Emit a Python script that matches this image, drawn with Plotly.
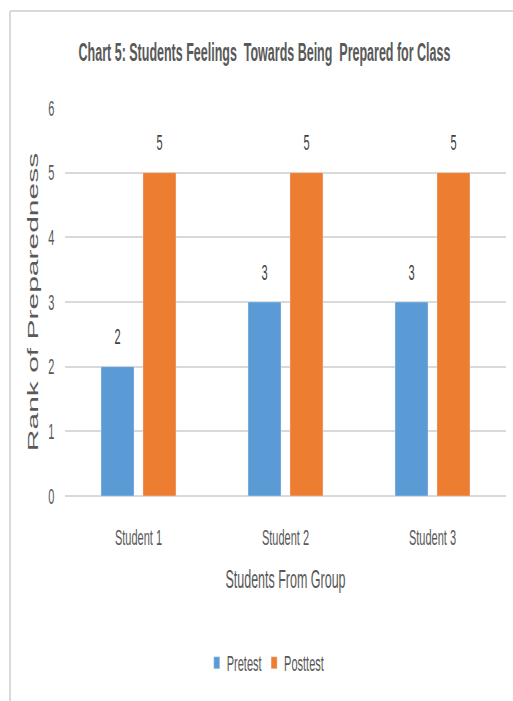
import plotly.graph_objects as go

categories = ["Student 1", "Student 2", "Student 3"]
pretest = [2, 3, 3]
posttest = [5, 5, 5]
series_names = ["Pretest", "Posttest"]
series_colors = ["#5B9BD5", "#ED7D31"]
y_ticks = [0, 1, 2, 3, 4, 5, 6]

# The reference picture is squeezed horizontally: the figure is laid out at
# twice the width and then squeezed back to 513 px with a CSS scaleX.
SQUEEZE = 0.5
W, H = 513, 701
FW = int(round(W / SQUEEZE))
L, R, T, B = 130, 14, 108, 205
PW = FW - L - R
PH = H - T - B

FONT = "Liberation Sans, Arial, sans-serif"
GREY = "#595959"
BARGAP, GROUPGAP = 0.429, 0.214

fig = go.Figure()
for name, vals, col in zip(series_names, [pretest, posttest], series_colors):
    fig.add_trace(go.Bar(name=name, x=categories, y=vals, marker=dict(color=col)))

# value labels above bars (offset computed from the bar layout)
cat_w = PW / len(categories)
slot = cat_w * (1 - BARGAP) / 2
annotations = []
for k, vals in enumerate([pretest, posttest]):
    shift = (k - 0.5) * slot
    for c, v in zip(categories, vals):
        annotations.append(dict(
            x=c, y=v, xref="x", yref="y", text=str(v), showarrow=False,
            xshift=shift, yshift=30, yanchor="middle",
            font=dict(family=FONT, size=22, color="#404040"),
        ))

fig.update_layout(
    width=FW, height=H,
    margin=dict(l=L, r=R, t=T, b=B),
    paper_bgcolor="white", plot_bgcolor="white",
    barmode="group", bargap=BARGAP, bargroupgap=GROUPGAP,
    showlegend=True,
    title=dict(
        text="<b>Chart 5: Students Feelings  Towards Being  Prepared for Class</b>",
        x=0.5156, xref="container", xanchor="center",
        y=1 - 52 / H, yref="container", yanchor="middle",
        font=dict(family=FONT, size=25, color=GREY),
    ),
    xaxis=dict(
        showgrid=False, showline=False, ticks="",
        ticklabelstandoff=26,
        tickfont=dict(family=FONT, size=22, color=GREY),
        title=dict(text="Students From Group", standoff=21,
                   font=dict(family=FONT, size=25, color=GREY)),
    ),
    yaxis=dict(
        range=[0, 6], tickvals=y_ticks,
        showgrid=True, gridcolor="#D9D9D9", gridwidth=1.5,
        zeroline=True, zerolinecolor="#D9D9D9", zerolinewidth=1.5,
        showline=False, ticks="", ticklabelstandoff=20,
        tickfont=dict(family=FONT, size=22, color=GREY),
        title=dict(text="Rank of Preparedness", standoff=10,
                   font=dict(family=FONT, size=30, color=GREY)),
    ),
    legend=dict(
        orientation="h", x=0.52, xref="container", xanchor="center",
        y=1 - 663 / H, yref="container", yanchor="middle",
        font=dict(family=FONT, size=22, color=GREY),
        traceorder="normal",
    ),
    annotations=annotations,
    shapes=[
        dict(type="line", xref="paper", yref="paper",
             x0=(20 - L) / PW, x1=(FW + 20 - L) / PW,
             y0=(H - B - 11) / PH, y1=(H - B - 11) / PH,
             line=dict(color="#D9D9D9", width=2)),
        dict(type="line", xref="paper", yref="paper",
             x0=(20 - L) / PW, x1=(20 - L) / PW,
             y0=(H - B - 11) / PH, y1=(H - B - H - 10) / PH,
             line=dict(color="#D9D9D9", width=4)),
    ],
)

post = (
    "var gd=document.getElementById('{plot_id}');"
    "gd.style.transformOrigin='0 0';"
    "gd.style.transform='scaleX(%s)';"
    "document.documentElement.style.overflow='hidden';"
    "document.body.style.overflow='hidden';"
    "document.body.style.margin='0';" % SQUEEZE
)

fig.write_html("out.html", post_script=post)
